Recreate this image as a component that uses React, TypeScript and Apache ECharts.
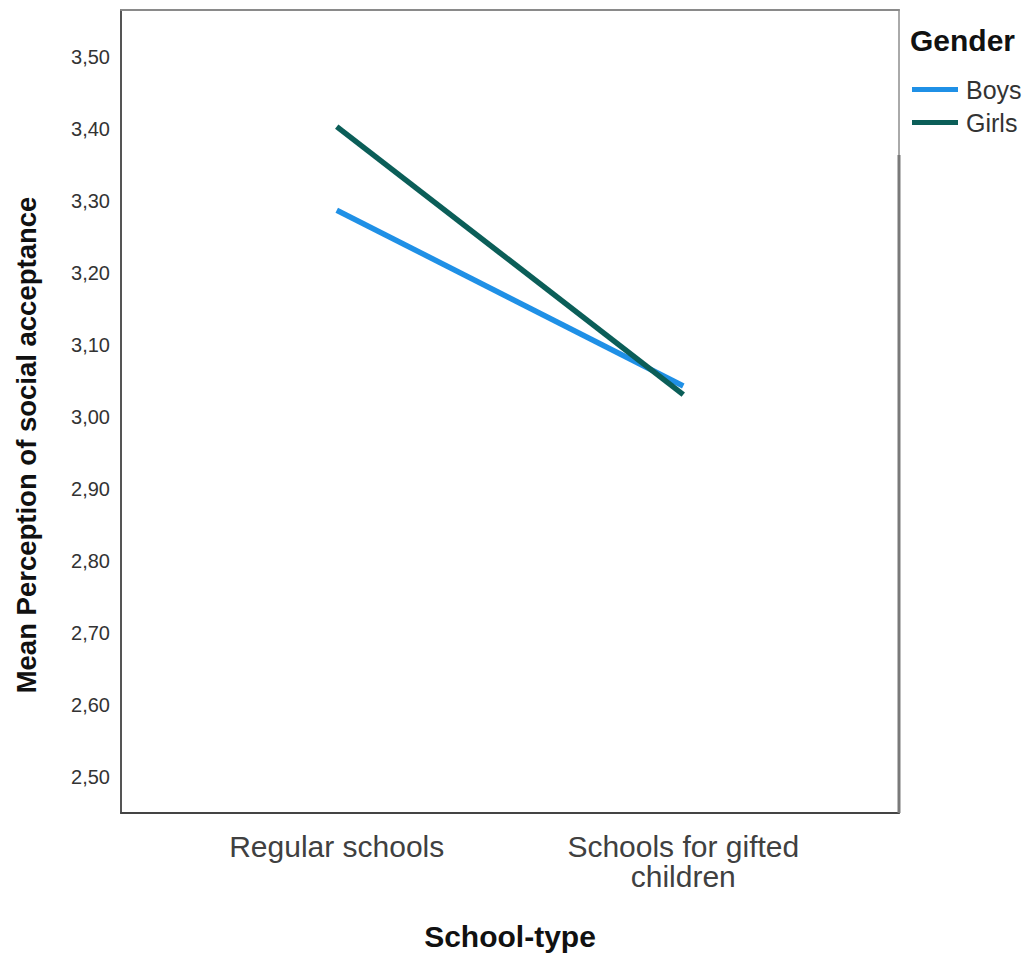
import React, { useEffect, useRef } from "react";
import * as echarts from "echarts";

const categories = ["Regular schools", "Schools for gifted\nchildren"];
const seriesNames = ["Boys", "Girls"];
const boys = [3.287, 3.043];
const girls = [3.403, 3.031];
const yTicks = [2.5, 2.6, 2.7, 2.8, 2.9, 3.0, 3.1, 3.2, 3.3, 3.4, 3.5];
const colors = ["#1f90e6", "#0b5e58"];

export default function App() {
  const ref = useRef<HTMLDivElement>(null);
  useEffect(() => {
    if (!ref.current) return;
    const chart = echarts.init(ref.current, undefined, { renderer: "svg" });
    const font = "Liberation Sans, Arial, sans-serif";
    const yMin = 2.45;
    const yMax = 3.565;
    const xMin = -0.6225;
    const xMax = 1.6225;
    chart.setOption({
      animation: false,
      backgroundColor: "#ffffff",
      title: {
        text: "Gender",
        left: 910,
        top: 25,
        textStyle: { fontFamily: font, fontSize: 30, fontWeight: "bold", color: "#111" },
        padding: 0,
      },
      legend: {
        orient: "vertical",
        left: 912,
        top: 77,
        icon: "rect",
        itemWidth: 46,
        itemHeight: 5,
        itemGap: 8,
        padding: 0,
        data: seriesNames,
        textStyle: { fontFamily: font, fontSize: 25, color: "#333", lineHeight: 25, padding: [0, 0, 0, 3] },
      },
      grid: { left: 121, right: 127, top: 10, bottom: 144, containLabel: false },
      xAxis: [
        {
          type: "value",
          min: xMin,
          max: xMax,
          splitLine: { show: false },
          axisTick: { show: false },
          axisLine: { show: true, onZero: false, lineStyle: { color: "#444", width: 2 } },
          axisLabel: {
            customValues: [0, 1],
            formatter: (v: number) => categories[Math.round(v)] ?? "",
            fontFamily: font,
            fontSize: 30,
            lineHeight: 30,
            color: "#404040",
            margin: 18,
            showMinLabel: true,
            showMaxLabel: true,
          },
          name: "School-type",
          nameLocation: "middle",
          nameGap: 108,
          nameTextStyle: { fontFamily: font, fontSize: 30, fontWeight: "bold", color: "#111" },
        },
        {
          type: "value",
          position: "top",
          min: xMin,
          max: xMax,
          splitLine: { show: false },
          axisTick: { show: false },
          axisLabel: { show: false },
          axisLine: { show: true, onZero: false, lineStyle: { color: "#8a8a8a", width: 2 } },
        },
      ],
      yAxis: [
        {
          type: "value",
          min: yMin,
          max: yMax,
          splitLine: { show: false },
          axisTick: { show: false },
          axisLine: { show: true, onZero: false, lineStyle: { color: "#555", width: 2 } },
          axisLabel: {
            customValues: yTicks,
            formatter: (v: number) => v.toFixed(2).replace(".", ","),
            fontFamily: font,
            fontSize: 20,
            color: "#333",
            margin: 11,
          },
        },
        {
          type: "value",
          position: "right",
          min: yMin,
          max: yMax,
          splitLine: { show: false },
          axisTick: { show: false },
          axisLabel: { show: false },
          axisLine: { show: true, onZero: false, lineStyle: { color: "#aaaaaa", width: 2 } },
        },
      ],
      graphic: [
        {
          type: "line",
          shape: { x1: 899, y1: 155, x2: 899, y2: 813 },
          style: { stroke: "#7a7a7a", lineWidth: 3 },
          z: 10,
        },
        {
          type: "text",
          x: 26,
          y: 445,
          rotation: Math.PI / 2,
          style: {
            text: "Mean Perception of social acceptance",
            fontFamily: font,
            fontSize: 27.5,
            fontWeight: "bold",
            fill: "#111",
            align: "center",
            verticalAlign: "middle",
          },
        },
      ],
      series: [
        {
          name: seriesNames[0],
          type: "line",
          data: boys.map((v, i) => [i, v]),
          showSymbol: false,
          symbol: "none",
          lineStyle: { width: 5.5, color: colors[0] },
          itemStyle: { color: colors[0] },
        },
        {
          name: seriesNames[1],
          type: "line",
          data: girls.map((v, i) => [i, v]),
          showSymbol: false,
          symbol: "none",
          lineStyle: { width: 5.5, color: colors[1] },
          itemStyle: { color: colors[1] },
        },
      ],
    });
    return () => chart.dispose();
  }, []);
  return (
    <div
      ref={ref}
      style={{ position: "fixed", left: 0, top: 0, width: 1026, height: 957 }}
    />
  );
}
